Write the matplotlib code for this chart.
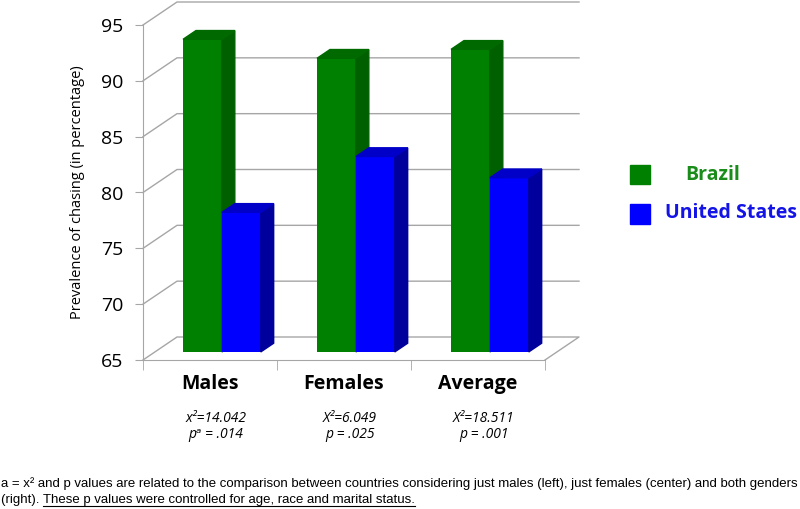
import matplotlib
matplotlib.use('Agg')
import matplotlib.pyplot as plt
from matplotlib.patches import Polygon
from matplotlib.lines import Line2D

categories = ['Males', 'Females', 'Average']
brazil = [93.0, 91.3, 92.1]
usa = [77.5, 82.5, 80.6]
chi_labels = ['x²=14.042', 'X²=6.049', 'X²=18.511']
p_labels = ['pᵃ = .014', 'p = .025', 'p = .001']
yticks = [65, 70, 75, 80, 85, 90, 95]
series = ['Brazil', 'United States']

plt.rcParams['font.family'] = ['Open Sans', 'DejaVu Sans']

W, H = 800, 509
fig = plt.figure(figsize=(W / 100, H / 100), dpi=100)
ax = fig.add_axes([143 / W, 149 / H, 402 / W, 335 / H])
ax.set_xlim(0, 3)
ax.set_ylim(65, 95)

# fake 3d depth (data units)
DX = 34 / 134.0
DY = 23 / 11.167
face = 0.35      # depth fraction where the bar front sits
depth = 0.38     # bar depth fraction
bw = 0.29
grid_c = '#a6a6a6'

# walls / gridlines
for t in yticks[1:]:
    ax.plot([0, DX, 3 + DX], [t, t + DY, t + DY], color=grid_c, lw=1, zorder=1, clip_on=False)
ax.plot([0, DX, 3 + DX, 3], [65, 65 + DY, 65 + DY, 65], color=grid_c, lw=1, zorder=1, clip_on=False)

cols = {
    'Brazil': ('#008000', '#006000', '#006a00'),
    'United States': ('#0000ff', '#00009c', '#0000c8'),
}

fx, fy = face * DX, face * DY
dx, dy = depth * DX, depth * DY
for s, vals, off in [('Brazil', brazil, -bw), ('United States', usa, 0.0)]:
    front, side, top = cols[s]
    for i, v in enumerate(vals):
        x0 = i + 0.5 + off + fx
        x1 = x0 + bw
        b = 65 + fy
        t = v + fy
        ax.bar(x0, v - 65, width=bw, bottom=b, align='edge', color=front, zorder=3, clip_on=False)
        ax.add_patch(Polygon([(x1, b), (x1, t), (x1 + dx, t + dy), (x1 + dx, b + dy)],
                             closed=True, color=side, zorder=3, clip_on=False))
        ax.add_patch(Polygon([(x0, t), (x1, t), (x1 + dx, t + dy), (x0 + dx, t + dy)],
                             closed=True, color=top, zorder=3, clip_on=False))

for sp in ['top', 'right']:
    ax.spines[sp].set_visible(False)
for sp in ['left', 'bottom']:
    ax.spines[sp].set_color(grid_c)
    ax.spines[sp].set_zorder(1)

ax.set_yticks(yticks)
ax.set_yticklabels([str(t) for t in yticks], fontsize=14)
ax.tick_params(axis='y', length=6, color=grid_c, pad=8)
ax.set_xticks([0.5, 1.5, 2.5])
ax.set_xticklabels(categories, fontsize=14, fontweight='bold')
ax.set_xticks([0, 1, 2, 3], minor=True)
ax.tick_params(axis='x', which='major', length=0, pad=10)
ax.tick_params(axis='x', which='minor', length=7, color=grid_c)
ax.set_ylabel('Prevalence of chasing (in percentage)', fontsize=10.5, labelpad=12)
ax.set_facecolor('none')

# stats under categories
for i in range(3):
    xf = (143 + 134 * (i + 0.5) + 6) / W
    fig.text(xf, 1 - 418 / H, chi_labels[i], ha='center', va='center', fontsize=10, style='italic')
    fig.text(xf, 1 - 434 / H, p_labels[i], ha='center', va='center', fontsize=10, style='italic')

# legend
fig.patches.append(plt.Rectangle((630 / W, 1 - 184 / H), 20 / W, 19 / H, transform=fig.transFigure,
                                 color='#008000', figure=fig))
fig.patches.append(plt.Rectangle((630 / W, 1 - 224 / H), 20 / W, 20 / H, transform=fig.transFigure,
                                 color='#0000ff', figure=fig))
fig.text(713 / W, 1 - 175 / H, series[0], ha='center', va='center', fontsize=14,
         fontweight='bold', color='#1a8c1a')
fig.text(665 / W, 1 - 213 / H, series[1], ha='left', va='center', fontsize=14,
         fontweight='bold', color='#1414e6')

# footnote
fn_font = dict(fontsize=9.5, family=['Liberation Sans', 'DejaVu Sans'])
fig.text(0.001, 1 - 484 / H,
         'a = x² and p values are related to the comparison between countries considering just males (left), '
         'just females (center) and both genders',
         ha='left', va='center', **fn_font)
t1 = fig.text(0.001, 1 - 500 / H, '(right). ', ha='left', va='center', **fn_font)
fig.canvas.draw()
r = fig.canvas.get_renderer()
bb = t1.get_window_extent(r)
t2 = fig.text(bb.x1 / W, 1 - 500 / H, 'These p values were controlled for age, race and marital status.',
              ha='left', va='center', **fn_font)
fig.canvas.draw()
bb2 = t2.get_window_extent(r)
fig.add_artist(Line2D([bb2.x0 / W, bb2.x1 / W], [(bb2.y0 + 0.5) / H] * 2, transform=fig.transFigure,
                      color='black', lw=0.8))

fig.savefig('out.png', dpi=100)
